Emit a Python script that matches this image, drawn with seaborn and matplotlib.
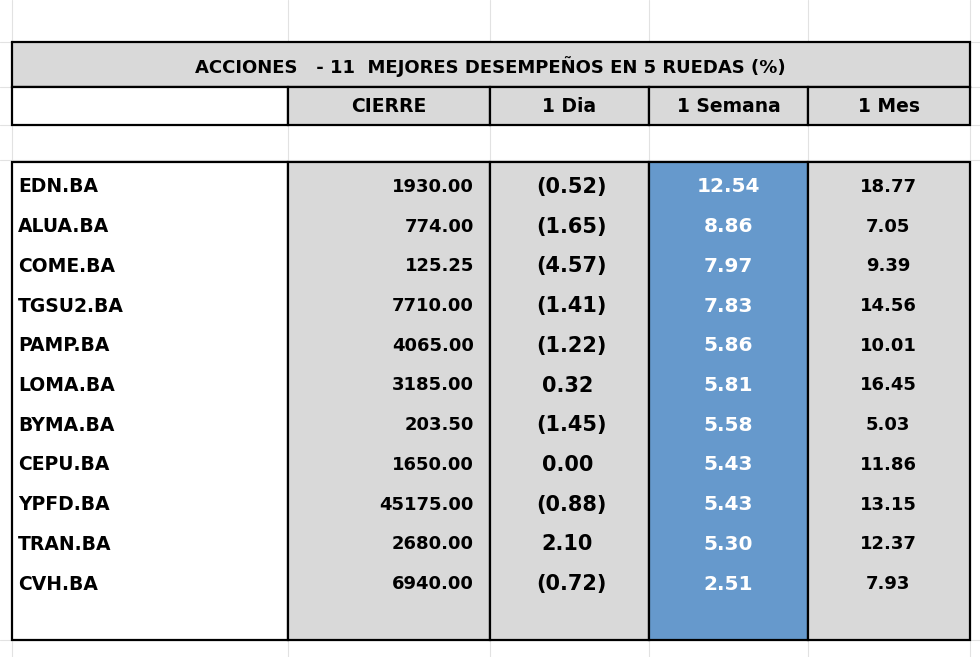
import matplotlib
matplotlib.use("Agg")
import matplotlib.pyplot as plt
from matplotlib.patches import Rectangle
import seaborn as sns

sns.set_theme(style="white", rc={"text.color": "black"})

title = "ACCIONES   - 11  MEJORES DESEMPEÑOS EN 5 RUEDAS (%)"
headers = ["CIERRE", "1 Dia", "1 Semana", "1 Mes"]
tickers = ["EDN.BA", "ALUA.BA", "COME.BA", "TGSU2.BA", "PAMP.BA", "LOMA.BA",
           "BYMA.BA", "CEPU.BA", "YPFD.BA", "TRAN.BA", "CVH.BA"]
cierre = [1930.00, 774.00, 125.25, 7710.00, 4065.00, 3185.00, 203.50, 1650.00, 45175.00, 2680.00, 6940.00]
dia = [-0.52, -1.65, -4.57, -1.41, -1.22, 0.32, -1.45, 0.00, -0.88, 2.10, -0.72]
semana = [12.54, 8.86, 7.97, 7.83, 5.86, 5.81, 5.58, 5.43, 5.43, 5.30, 2.51]
mes = [18.77, 7.05, 9.39, 14.56, 10.01, 16.45, 5.03, 11.86, 13.15, 12.37, 7.93]

W, H = 980, 657
fig = plt.figure(figsize=(9.8, 6.57), dpi=100)
ax = fig.add_axes([0, 0, 1, 1])
ax.set_xlim(0, W); ax.set_ylim(H, 0); ax.axis("off")

gray = "#d9d9d9"; blue = "#6699cc"; grid = "#e2e2e2"
cols = [12, 288, 490, 649, 808, 970]
FONT = "DejaVu Sans"
K = "black"

for y in [42, 87, 125, 160, 640]:
    ax.plot([0, W], [y, y], color=grid, lw=0.8, zorder=0)
for x in cols:
    ax.plot([x, x], [0, H], color=grid, lw=0.8, zorder=0)

def rect(x0, y0, x1, y1, fc, lw=1.6, ec="black"):
    ax.add_patch(Rectangle((x0, y0), x1 - x0, y1 - y0, facecolor=fc, edgecolor=ec, lw=lw, zorder=1))

rect(12, 42, 970, 87, gray)
ax.text(490, 67, title, ha="center", va="center", fontsize=13, fontweight="bold", family=FONT, color=K)
rect(12, 87, 288, 125, "white")
for i, h in enumerate(headers):
    rect(cols[i + 1], 87, cols[i + 2], 125, gray)
    ax.text((cols[i + 1] + cols[i + 2]) / 2, 106, h, ha="center", va="center",
            fontsize=13.5, fontweight="bold", family=FONT, color=K)
top, bot = 162, 640
rect(12, top, 288, bot, "white")
rect(288, top, 490, bot, gray)
rect(490, top, 649, bot, gray)
rect(649, top, 808, bot, blue)
rect(808, top, 970, bot, gray)

y0, dy = 187, 39.7
for i in range(len(tickers)):
    y = y0 + i * dy
    ax.text(18, y, tickers[i], ha="left", va="center", fontsize=13.5, fontweight="bold", family=FONT, color=K)
    ax.text(474, y, f"{cierre[i]:.2f}", ha="right", va="center", fontsize=13, fontweight="bold", family=FONT, color=K)
    if dia[i] < 0:
        ax.text(607, y, f"({abs(dia[i]):.2f})", ha="right", va="center", fontsize=15, fontweight="bold", family=FONT, color=K)
    else:
        ax.text(593, y, f"{dia[i]:.2f}", ha="right", va="center", fontsize=15, fontweight="bold", family=FONT, color=K)
    ax.text(728, y, f"{semana[i]:.2f}", ha="center", va="center", fontsize=14.5, fontweight="bold",
            color="white", family=FONT)
    ax.text(888, y, f"{mes[i]:.2f}", ha="center", va="center", fontsize=13, fontweight="bold", family=FONT, color=K)

fig.savefig("out.png", dpi=100, facecolor="white")
